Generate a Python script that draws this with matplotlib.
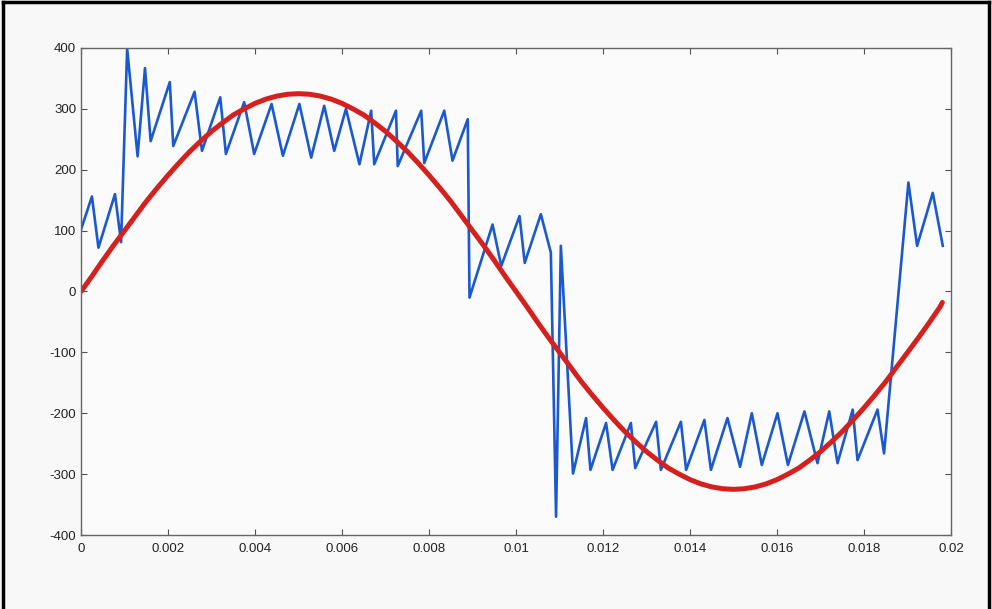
import matplotlib
matplotlib.use("Agg")
import matplotlib.pyplot as plt
from matplotlib.lines import Line2D

plt.rcParams['font.family'] = ['Liberation Sans', 'DejaVu Sans']
plt.rcParams['axes.unicode_minus'] = False

# blue trace (time in s, value)
blue_t = [0.0, 0.00025, 0.00040, 0.00078, 0.00092, 0.00106, 0.00130, 0.00147,
          0.00160, 0.00204, 0.00212, 0.00261, 0.00278, 0.00320, 0.00333, 0.00375,
          0.00398, 0.00438, 0.00464, 0.00502, 0.00529, 0.00559, 0.00582, 0.00609,
          0.00640, 0.00667, 0.00674, 0.00724, 0.00728, 0.00782, 0.00789, 0.00835,
          0.00854, 0.00889, 0.00893, 0.00946, 0.00966, 0.01008, 0.01020, 0.01057,
          0.01080, 0.01092, 0.01103, 0.01131, 0.01161, 0.01171, 0.01207, 0.01222,
          0.01264, 0.01274, 0.01322, 0.01333, 0.01379, 0.01391, 0.01433, 0.01448,
          0.01486, 0.01515, 0.01542, 0.01565, 0.01601, 0.01625, 0.01663, 0.01693,
          0.01720, 0.01739, 0.01774, 0.01785, 0.01831, 0.01846, 0.01902, 0.01922,
          0.01958, 0.01981]
blue_v = [102, 156, 72, 160, 81, 399, 222, 367,
          247, 344, 239, 328, 231, 319, 226, 311,
          226, 308, 223, 308, 220, 305, 231, 300,
          209, 297, 209, 297, 206, 297, 211, 297,
          215, 283, -10, 110, 42, 124, 47, 127,
          64, -370, 75, -299, -208, -293, -216, -293,
          -216, -290, -214, -293, -214, -293, -211, -293,
          -208, -288, -200, -285, -200, -285, -197, -282,
          -197, -282, -194, -277, -194, -266, 179, 75,
          162, 75]

# red curve values read every 0.25 ms
red_t = [i * 0.00025 for i in range(80)] + [0.0198]
red_v = [0, 25, 51, 76, 100, 124, 148, 170, 191, 211,
         230, 247, 263, 277, 290, 300, 309, 316, 321, 324,
         325, 324, 321, 316, 309, 300, 290, 277, 263, 247,
         230, 211, 191, 170, 148, 124, 100, 76, 51, 25,
         0, -25, -51, -76, -100, -124, -148, -170, -191, -211,
         -230, -247, -263, -277, -290, -300, -309, -316, -321, -324,
         -325, -324, -321, -316, -309, -300, -290, -277, -263, -247,
         -230, -211, -191, -170, -148, -124, -100, -76, -51, -25,
         -18]

xticks = [0, 0.002, 0.004, 0.006, 0.008, 0.01, 0.012, 0.014, 0.016, 0.018, 0.02]
xticklabels = ['0', '0.002', '0.004', '0.006', '0.008', '0.01', '0.012',
               '0.014', '0.016', '0.018', '0.02']
yticks = [-400, -300, -200, -100, 0, 100, 200, 300, 400]

fig = plt.figure(figsize=(9.92, 6.09), dpi=100, facecolor='#f8f8f8')
ax = fig.add_axes([0.0817, 0.1215, 0.877, 0.7997])
ax.set_facecolor('#fbfbfb')

ax.plot(blue_t, blue_v, color='#1b59cf', lw=1.9)
ax.plot(red_t, red_v, color='#d6201d', lw=3.6, solid_capstyle='round')

ax.set_xlim(0, 0.02)
ax.set_ylim(-400, 400)
ax.set_xticks(xticks)
ax.set_xticklabels(xticklabels)
ax.set_yticks(yticks)
ax.tick_params(direction='in', top=True, right=True, length=4, width=0.8,
               color='#555555', labelsize=9.5, labelcolor='#222222')
ax.tick_params(axis='x', pad=6)
for s in ax.spines.values():
    s.set_color('#666666')
    s.set_linewidth(1.0)

# scanned page frame
for xs, ys in [([0.003, 0.003], [0.0, 0.997]),
               ([0.003, 0.997], [0.997, 0.997]),
               ([0.997, 0.997], [0.997, 0.0])]:
    fig.add_artist(Line2D(xs, ys, transform=fig.transFigure, color='black', lw=2.5))

fig.savefig('out.png', dpi=100, facecolor=fig.get_facecolor())
